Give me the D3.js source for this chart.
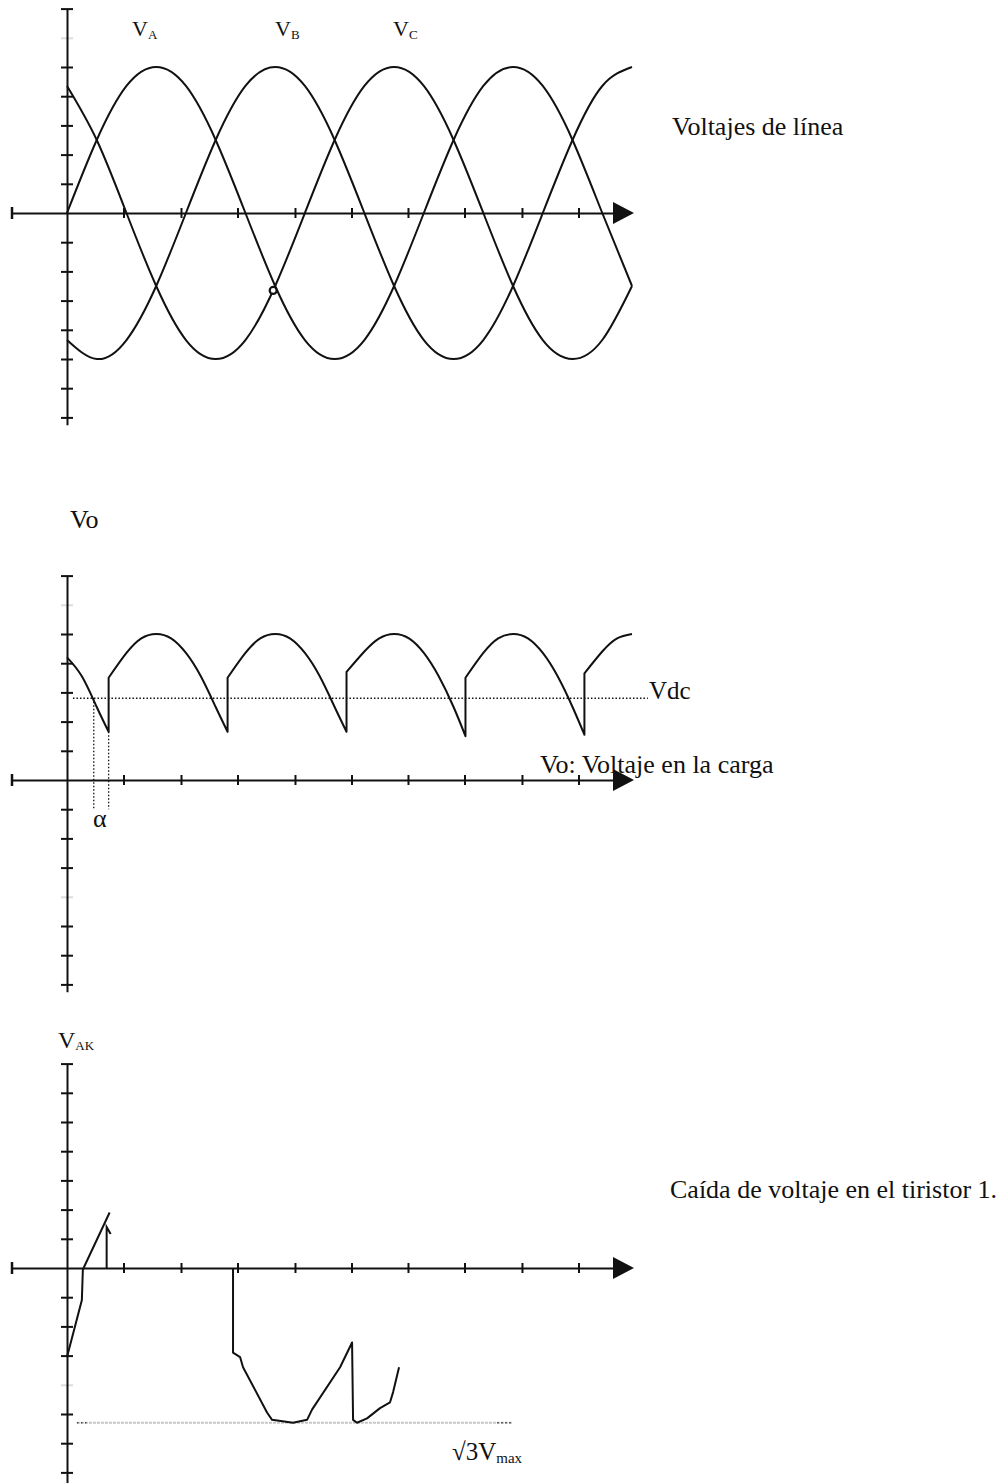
<!DOCTYPE html>
<html><head><meta charset="utf-8">
<script src="https://cdn.jsdelivr.net/npm/d3@7"></script>
<style>
body{margin:0;background:#fff}
text{font-family:"Liberation Serif","Times New Roman",serif;fill:#111}
</style>
</head><body>
<svg id="c" width="998" height="1483"></svg>
<script>
// ---------- DATA (angles in degrees, voltages in units of Vmax) ----------
const phaseAngles = [0,30,60,90,120,150,180,210,240,270,300,330,360,390,420,450,480,510,540,570];
const vA = [0,0.5,0.87,1,0.87,0.5,0,-0.5,-0.87,-1,-0.87,-0.5,0,0.5,0.87,1,0.87,0.5,0,-0.5];
const vB = [-0.87,-1,-0.87,-0.5,0,0.5,0.87,1,0.87,0.5,0,-0.5,-0.87,-1,-0.87,-0.5,0,0.5,0.87,1];
const vC = [0.87,0.5,0,-0.5,-0.87,-1,-0.87,-0.5,0,0.5,0.87,1,0.87,0.5,0,-0.5,-0.87,-1,-0.87,-0.5];
const phaseNames = [["V","A"],["V","B"],["V","C"]];

// Output voltage Vo (repeated angle = firing jump)
const voAngles = [0,15,30,42, 42,60,75,90,105,120,135,150,162, 162,180,195,210,225,240,255,270,282,
                  282,300,315,330,345,360,375,390,402, 402,420,435,450,465,480,495,510,522, 522,540,555,570];
const voValues = [0.84,0.71,0.5,0.33, 0.70,0.87,0.97,1,0.97,0.87,0.71,0.5,0.33, 0.70,0.87,0.97,1,0.97,0.87,0.71,0.5,0.33,
                  0.74,0.88,0.97,1,0.97,0.87,0.71,0.5,0.30, 0.70,0.87,0.97,1,0.97,0.87,0.71,0.5,0.31, 0.73,0.88,0.97,1];
const vdcValue = 0.56;
const vdcRange = [6, 586];
const alphaAngles = [27, 42];
const alphaTops = [0.56, 0.33];
const alphaBottom = -0.2;

// Thyristor voltage VAK (hand-drawn sketch)
const vakAngles1 = [0, 15, 16, 43];
const vakValues1 = [-0.61, -0.22, -0.01, 0.38];
const vakSpikeAngle = 40;
const vakSpikeValues = [0, 0.28];
const vakAngles2 = [167.5,167.5,174.6,177.6,201.8,206.9,228,242.2,247.2,275.5,287.6,288.6,292.6,302.7,315.8,325.9,329,335];
const vakValues2 = [0,-0.58,-0.61,-0.68,-0.99,-1.04,-1.06,-1.04,-0.97,-0.68,-0.51,-1.04,-1.06,-1.03,-0.96,-0.92,-0.85,-0.68];
const sqrt3Value = -1.06;
const sqrt3Range = [10, 449];

const xTickAngles = [57,115,172,230,287,344,401,459,516];
const yTickValues = [-1.4,-1.2,-1,-0.8,-0.6,-0.4,-0.2,0.2,0.4,0.6,0.8,1,1.2,1.4];
const markAngle = 208, markValue = -0.53;

// ---------- LAYOUT ----------
const W = 998, H = 1483, AMP = 146;
const svg = d3.select("#c");
svg.append("rect").attr("width",W).attr("height",H).attr("fill","#fff");
const x = d3.scaleLinear().domain([0,570]).range([67,632]);
const INK = "#111";

const panels = [
  {y0:213, top:1.4, bottom:-1.45, faint:[1.2]},
  {y0:780, top:1.4, bottom:-1.45, faint:[1.2,-0.8]},
  {y0:1268, top:1.4, bottom:-1.5, faint:[-0.8]}
];
panels.forEach(p=>{
  p.y = d3.scaleLinear().domain([p.bottom,p.top]).range([p.y0 - p.bottom*AMP, p.y0 - p.top*AMP]);
});

function drawAxes(p){
  const g = svg.append("g");
  // y axis
  const ya = g.append("g").attr("transform","translate(67,0)")
    .call(d3.axisLeft(p.y).tickValues(yTickValues).tickSizeOuter(0).tickFormat(""));
  ya.select(".domain").attr("stroke",INK).attr("stroke-width",2);
  ya.selectAll(".tick line").attr("x1",-6).attr("x2",6).attr("stroke",INK).attr("stroke-width",2)
    .attr("opacity",d=>p.faint.includes(d)?0.15:1);
  // x axis
  const xa = x.copy().domain([x.invert(12), x.invert(614)]).range([12,614]);
  const xg = g.append("g").attr("transform",`translate(0,${p.y0})`)
    .call(d3.axisBottom(xa).tickValues(xTickAngles).tickSizeOuter(0).tickFormat(""));
  xg.select(".domain").attr("stroke",INK).attr("stroke-width",2);
  xg.selectAll(".tick line").attr("y1",-5).attr("y2",5).attr("stroke",INK).attr("stroke-width",2);
  g.append("line").attr("x1",12).attr("x2",12).attr("y1",p.y0-6).attr("y2",p.y0+6)
    .attr("stroke",INK).attr("stroke-width",2.5);
  g.append("path").attr("d",`M613,${p.y0-11}L634,${p.y0}L613,${p.y0+11}Z`).attr("fill",INK);
}
panels.forEach(drawAxes);

function segments(angles, values){
  const segs=[]; let cur=[];
  angles.forEach((a,i)=>{
    if(i>0 && a===angles[i-1]){ segs.push(cur); cur=[]; }
    cur.push([a,values[i]]);
  });
  segs.push(cur); return segs;
}
function joinedPath(segs, y, curve){
  const ln = d3.line().x(d=>x(d[0])).y(d=>y(d[1])).curve(curve);
  return segs.map((s,i)=>{ const d = ln(s); return i? d.replace(/^M/,"L") : d; }).join("");
}

// ---------- PANEL 1: line voltages ----------
const p1 = panels[0];
[vA,vB,vC].forEach(vals=>{
  svg.append("path").datum(phaseAngles.map((a,i)=>[a,vals[i]]))
    .attr("d", d3.line().x(d=>x(d[0])).y(d=>p1.y(d[1])).curve(d3.curveNatural))
    .attr("fill","none").attr("stroke",INK).attr("stroke-width",2);
});
svg.append("circle").attr("cx",x(markAngle)).attr("cy",p1.y(markValue)).attr("r",3.5)
  .attr("fill","#fff").attr("stroke",INK).attr("stroke-width",2.2);
const labelX = [132,275,393];
phaseNames.forEach((n,i)=>{
  const t = svg.append("text").attr("x",labelX[i]).attr("y",36).attr("font-size",22).text(n[0]);
  t.append("tspan").attr("font-size",13).attr("dy",3).text(n[1]);
});
svg.append("text").attr("x",672).attr("y",135).attr("font-size",26).text("Voltajes de línea");

// ---------- PANEL 2: Vo ----------
const p2 = panels[1];
svg.append("path").attr("d", joinedPath(segments(voAngles,voValues), p2.y, d3.curveNatural))
  .attr("fill","none").attr("stroke",INK).attr("stroke-width",2).attr("stroke-linejoin","round");
svg.append("line").attr("x1",x(vdcRange[0])).attr("x2",x(vdcRange[1]))
  .attr("y1",p2.y(vdcValue)).attr("y2",p2.y(vdcValue))
  .attr("stroke",INK).attr("stroke-width",1.6).attr("stroke-dasharray","1.5,2");
alphaAngles.forEach((a,i)=>{
  svg.append("line").attr("x1",x(a)).attr("x2",x(a)).attr("y1",p2.y(alphaTops[i])).attr("y2",p2.y(alphaBottom))
    .attr("stroke",INK).attr("stroke-width",1.3).attr("stroke-dasharray","1.5,2");
});
svg.append("text").attr("x",70).attr("y",528).attr("font-size",26).text("Vo");
svg.append("text").attr("x",649).attr("y",699).attr("font-size",25).text("Vdc");
svg.append("text").attr("x",540).attr("y",773).attr("font-size",26).text("Vo: Voltaje en la carga");
svg.append("text").attr("x",93).attr("y",827).attr("font-size",26).text("α");

// ---------- PANEL 3: VAK ----------
const p3 = panels[2];
svg.append("line").attr("x1",x(sqrt3Range[0])).attr("x2",x(sqrt3Range[1]))
  .attr("y1",p3.y(sqrt3Value)).attr("y2",p3.y(sqrt3Value))
  .attr("stroke","#c6c6c6").attr("stroke-width",2.2).attr("stroke-dasharray","3,1");
[[sqrt3Range[0], sqrt3Range[0]+11],[sqrt3Range[1]-15, sqrt3Range[1]]].forEach(r=>{
  svg.append("line").attr("x1",x(r[0])).attr("x2",x(r[1]))
    .attr("y1",p3.y(sqrt3Value)).attr("y2",p3.y(sqrt3Value))
    .attr("stroke","#444").attr("stroke-width",1.5).attr("stroke-dasharray","1.5,2.5");
});
const vakLine = d3.line().x(d=>x(d[0])).y(d=>p3.y(d[1]));
svg.append("path").datum(vakAngles1.map((a,i)=>[a,vakValues1[i]])).attr("d",vakLine)
  .attr("fill","none").attr("stroke",INK).attr("stroke-width",2);
svg.append("path").datum(vakAngles2.map((a,i)=>[a,vakValues2[i]])).attr("d",vakLine)
  .attr("fill","none").attr("stroke",INK).attr("stroke-width",2).attr("stroke-linejoin","round");
const sx = x(vakSpikeAngle), sy0 = p3.y(vakSpikeValues[0]), sy1 = p3.y(vakSpikeValues[1]);
svg.append("path").attr("d",`M${sx},${sy0}L${sx},${sy1}L${sx+4},${sy1+7}`)
  .attr("fill","none").attr("stroke",INK).attr("stroke-width",2);
const vak = svg.append("text").attr("x",58).attr("y",1048).attr("font-size",24).text("V");
vak.append("tspan").attr("font-size",13).attr("dy",2).text("AK");
svg.append("text").attr("x",670).attr("y",1198).attr("font-size",26).text("Caída de voltaje en el tiristor 1.");
const sq = svg.append("text").attr("x",452).attr("y",1460).attr("font-size",25).text("√3V");
sq.append("tspan").attr("font-size",15).attr("dy",3).text("max");
</script>
</body></html>
